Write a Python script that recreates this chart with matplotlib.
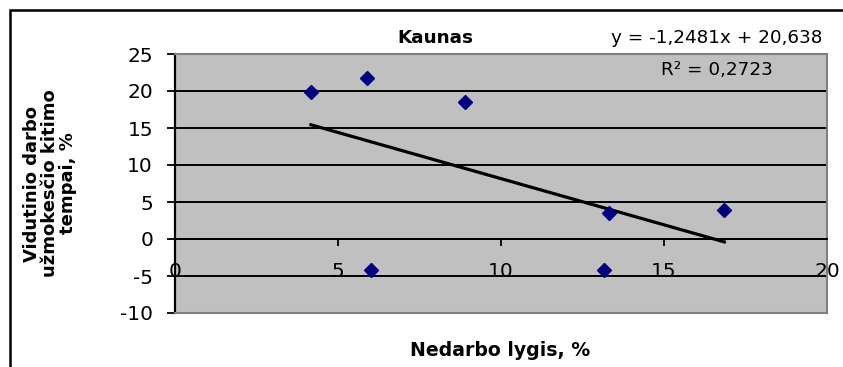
import numpy as np
import matplotlib.pyplot as plt
from matplotlib.patches import Rectangle

# Kaunas: unemployment rate vs. average wage growth
unemployment = np.array([4.17, 5.88, 8.90, 6.01, 13.31, 16.85, 13.17])
wage_growth = np.array([19.8, 21.7, 18.5, -4.2, 3.55, 3.9, -4.2])
slope = -1.2481
intercept = 20.638
r_squared = 0.2723
x_ticks = [0, 5, 10, 15, 20]
y_ticks = [-10, -5, 0, 5, 10, 15, 20, 25]

plt.rcParams['font.family'] = ['DejaVu Sans']
plt.rcParams['axes.unicode_minus'] = False

W, H = 843, 367
fig = plt.figure(figsize=(W / 100, H / 100), dpi=100)
ax = fig.add_axes([175 / W, 1 - 313 / H, 652 / W, 259 / H])
ax.set_facecolor('#c0c0c0')
ax.set_xlim(0, 20)
ax.set_ylim(-10, 25)
ax.set_xticks(x_ticks)
ax.set_yticks(y_ticks)

ax.yaxis.grid(True, color='black', lw=1.4)
ax.set_axisbelow(True)

ax.spines['bottom'].set_position(('data', 0))
ax.spines['bottom'].set_color('black')
ax.spines['bottom'].set_linewidth(1.4)
ax.spines['left'].set_color('black')
ax.spines['left'].set_linewidth(1.6)
for s in ['top', 'right']:
    ax.spines[s].set_color('#808080')
    ax.spines[s].set_linewidth(1.5)
ax.axhline(-10, color='#808080', lw=1.5, clip_on=False, zorder=3)

ax.tick_params(axis='x', length=5, width=1.3, pad=11.5, labelsize=14.5)
ax.tick_params(axis='y', length=5.8, width=1.3, pad=10, labelsize=14.5)

# trendline over data range
xs = np.array([unemployment.min(), unemployment.max()])
ax.plot(xs, slope * xs + intercept, color='black', lw=2.3, zorder=3)
ax.plot(unemployment, wage_growth, 'D', color='#000080', ms=7.3, zorder=4, clip_on=False)

fig.text(435 / W, 1 - 38 / H, 'Kaunas', fontweight='bold', fontsize=13.2, ha='center', va='center')
eq = f'y = {slope:.4f}x + {intercept:.3f}'.replace('.', ',')
fig.text(717 / W, 1 - 38 / H, eq, fontsize=13.2, ha='center', va='center')
r2 = f'R² = {r_squared:.4f}'.replace('.', ',')
fig.text(717 / W, 1 - 70 / H, r2, fontsize=13.2, ha='center', va='center')

fig.text(500 / W, 1 - 350 / H, 'Nedarbo lygis, %', fontweight='bold', fontsize=13.6,
         ha='center', va='center')
fig.text(50 / W, 1 - 183.5 / H, 'Vidutinio darbo\nužmokesčio kitimo\ntempai, %',
         fontweight='bold', fontsize=13, rotation=90, ha='center', va='center',
         multialignment='center', linespacing=1.0)

# chart area border
fig.add_artist(Rectangle((9.5 / W, -0.1), 1.2, 1 - 9.5 / H + 0.1, transform=fig.transFigure,
                         fill=False, edgecolor='black', lw=1.8))

fig.savefig('out.png', dpi=100)
